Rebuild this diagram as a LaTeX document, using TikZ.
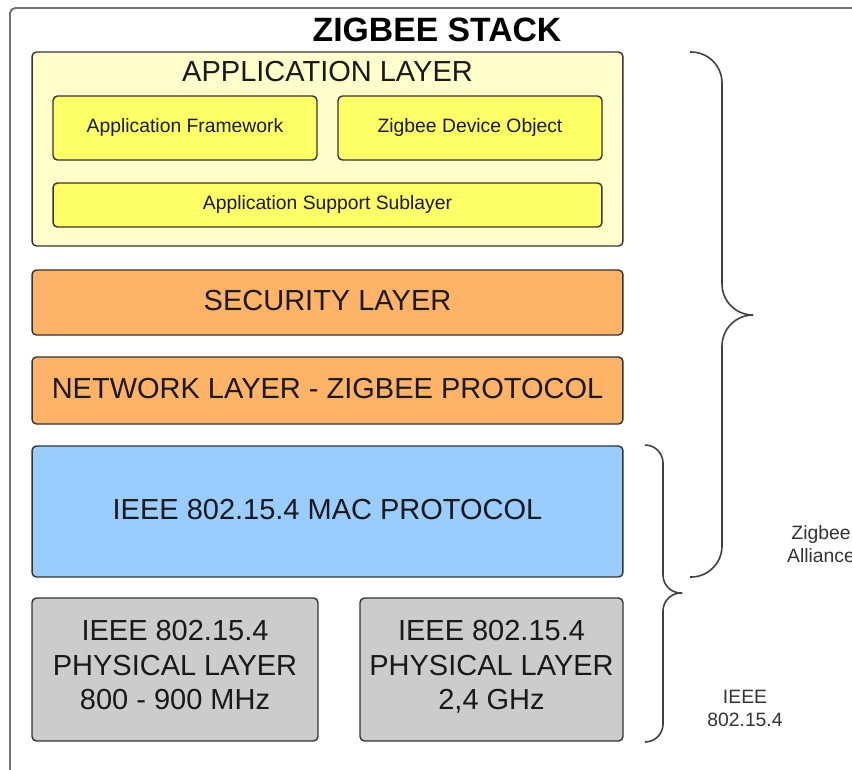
\documentclass[tikz,border=0pt]{standalone}
\usepackage{fontspec}
\setmainfont{Liberation Sans}
\definecolor{applight}{HTML}{FFFFCC}
\definecolor{appyellow}{HTML}{FFFF66}
\definecolor{netorange}{HTML}{FFB366}
\definecolor{macblue}{HTML}{99CCFF}
\definecolor{phygray}{HTML}{CCCCCC}
\definecolor{edgegray}{HTML}{333333}
\begin{document}
\begin{tikzpicture}[x=0.02cm, y=-0.02cm,
    layer/.style={draw=edgegray, line width=0.8pt, rounded corners=2.5pt, inner sep=0pt,
        align=center, text=black!90, text depth=0.1cm, font=\fontsize{16.5}{19.6}\selectfont},
    sublayer/.style={layer, fill=appyellow, font=\fontsize{11}{13}\selectfont},
    brace/.style={draw=black!75, line width=0.9pt},
    side/.style={align=center, text=black!80, font=\fontsize{11}{12.8}\selectfont}]

    % Fix the page size and cut off what runs past it
    \useasboundingbox (0,0) rectangle (852,769);
    \clip (0,0) rectangle (852,769);

    % Draw the outer frame and the title
    \draw[draw=black!55, line width=1.1pt, rounded corners=3pt] (10,800) -- (10,8) -- (880,8);
    \node[font=\bfseries\fontsize{19.2}{22}\selectfont] (stack) at (437,30) {ZIGBEE STACK};

    % Draw the application layer and its parts
    \node[layer, fill=applight, minimum width=11.82cm, minimum height=3.88cm] (app) at (327.5,149) {};
    \node[font=\fontsize{16.5}{19.6}\selectfont, text=black!90] (apptitle) at (327.5,72) {APPLICATION LAYER};
    \node[sublayer, minimum width=5.28cm, minimum height=1.28cm] (af) at (185,128) {Application Framework};
    \node[sublayer, minimum width=5.28cm, minimum height=1.28cm] (zdo) at (470,128) {Zigbee Device Object};
    \node[sublayer, minimum width=10.98cm, minimum height=0.88cm] (aps) at (327.5,205) {Application Support Sublayer};

    % Draw the layers below it
    \node[layer, fill=netorange, minimum width=11.82cm, minimum height=1.30cm] (sec) at (327.5,302.5) {SECURITY LAYER};
    \node[layer, fill=netorange, minimum width=11.82cm, minimum height=1.34cm] (nwk) at (327.5,390.5) {NETWORK LAYER - ZIGBEE PROTOCOL};
    \node[layer, fill=macblue, minimum width=11.82cm, minimum height=2.62cm] (mac) at (327.5,511.5) {IEEE 802.15.4 MAC PROTOCOL};
    \node[layer, fill=phygray, text depth=0.18cm, minimum width=5.72cm, minimum height=2.86cm] (phya) at (175,669.5) {IEEE 802.15.4\\PHYSICAL LAYER\\800 - 900 MHz};
    \node[layer, fill=phygray, text depth=0.18cm, minimum width=5.26cm, minimum height=2.86cm] (phyb) at (491.5,669.5) {IEEE 802.15.4\\PHYSICAL LAYER\\2,4 GHz};

    % Draw the braces, each as two halves meeting at the tip
    \coordinate (zbtip) at (753,315);
    \coordinate (ieeetip) at (682,593);
    \foreach \y in {52, 577} {
        \draw[brace, rounded corners=0.62cm] (690,\y) -| (722,315) -- (zbtip);
    }
    \foreach \y in {445, 742} {
        \draw[brace, rounded corners=0.36cm] (645,\y) -| (663,593) -- (ieeetip);
    }

    % Draw labels for the braces
    \node[side] (zigbee) at (821,544) {Zigbee\\Alliance};
    \node[side] (ieee) at (745,708.5) {IEEE\\802.15.4};
\end{tikzpicture}
\end{document}
